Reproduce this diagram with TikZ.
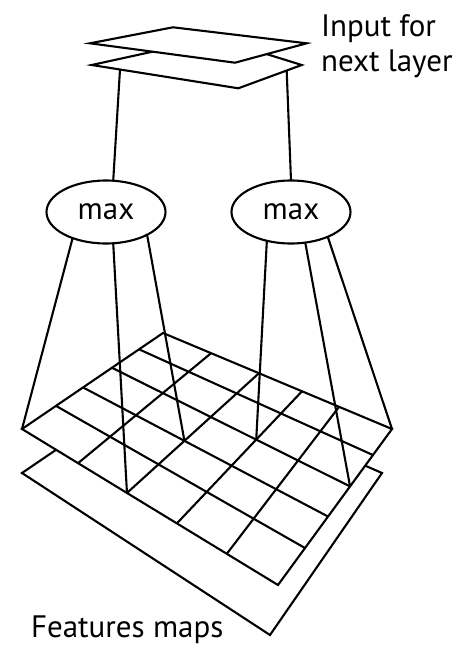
\documentclass[tikz,border=0pt]{standalone}
\usepackage{fontspec}
\setmainfont{PT Sans}
\usetikzlibrary{shapes.geometric,calc}
\begin{document}
\begin{tikzpicture}[x=1pt,y=-1pt,
  line width=2.1pt, line join=miter,
  sheet/.style={draw, fill=white},
  pool/.style={ellipse, draw, fill=white, minimum width=119pt, minimum height=63pt,
    inner sep=0pt, outer sep=0pt, font=\fontsize{31}{36}\selectfont},
  tagtext/.style={anchor=base west, inner sep=0pt, font=\fontsize{31}{36}\selectfont},
  wire/.style={draw}]
\useasboundingbox (0,0) rectangle (456,645);

% ---------- feature maps (two stacked sheets, the upper one gridded) ----------
\coordinate (L2) at (22,473);  \coordinate (B2) at (163,377);
\coordinate (R2) at (382,473); \coordinate (F2) at (270,635);
\draw[sheet] (L2) -- (B2) -- (R2) -- (F2) -- cycle;

\coordinate (L) at (22,429);  \coordinate (B) at (163,333);
\coordinate (R) at (392,429); \coordinate (F) at (278,585);
\draw[sheet] (L) -- (B) -- (R) -- (F) -- cycle;

% grid lines running up to the right
\foreach \i/\a/\b in {1/0.219/0.210, 2/0.410/0.419, 3/0.605/0.607, 4/0.800/0.769} {
  \coordinate (u\i a) at ($(L)!\a!(F)$);
  \coordinate (u\i b) at ($(B)!\b!(R)$);
  \draw (u\i a) -- (u\i b);
}
% grid lines running down to the right
\foreach \i/\a/\b in {1/0.241/0.237, 2/0.433/0.439, 3/0.638/0.632, 4/0.830/0.833} {
  \coordinate (d\i a) at ($(L)!\a!(B)$);
  \coordinate (d\i b) at ($(F)!\b!(R)$);
  \draw (d\i a) -- (d\i b);
}
\coordinate (v22) at (intersection of u2a--u2b and d2a--d2b);
\coordinate (v33) at (intersection of u3a--u3b and d3a--d3b);

% ---------- next-layer input (two stacked sheets) ----------
\coordinate (SL) at (91.7,65);  \coordinate (ST) at (215,38);
\coordinate (SR) at (301.7,65); \coordinate (SB) at (238.3,88.3);
\draw[sheet] (SL) -- (ST) -- (SR) -- (SB) -- cycle;

\coordinate (TL) at (90,43.3);   \coordinate (TT) at (173,27.3);
\coordinate (TR) at (306.7,43.3); \coordinate (TB) at (235,62.7);
\draw[sheet] (TL) -- (TT) -- (TR) -- (TB) -- cycle;

\coordinate (inL) at ($(SL)!0.193!(SB)$);
\coordinate (inR) at ($(SB)!0.763!(SR)$);

% ---------- pooling units ----------
\node[pool] (lm) at (106,212) {max};
\node[pool] (rm) at (291,212) {max};

% ---------- connections ----------
\draw[wire] (inL) -- (lm.77);
\draw[wire] (inR) -- (rm.north);

\draw[wire] (lm.218) -- (L);
\draw[wire] (lm.283) -- (u2a);
\draw[wire] (lm.331) -- (v22);

\draw[wire] (rm.230) -- (v33);
\draw[wire] (rm.295) -- (d3b);
\draw[wire] (rm.326) -- (R);

% ---------- captions ----------
\node[tagtext] (cap1) at (320,36.7) {Input for};
\node[tagtext] (cap2) at (320,71.7) {next layer};
\node[tagtext] (cap3) at (30,637.5) {Features maps};
\end{tikzpicture}
\end{document}
